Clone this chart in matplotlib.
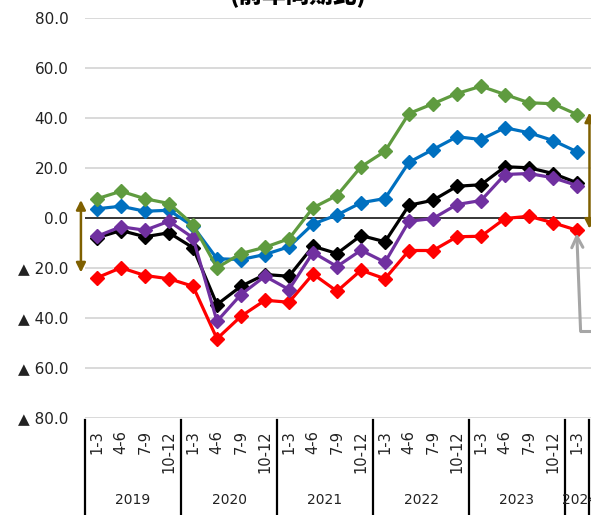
import numpy as np
import matplotlib
matplotlib.use('Agg')
import matplotlib.pyplot as plt
from matplotlib.lines import Line2D

years = ['2019', '2020', '2021', '2022', '2023', '2024']
quarters = ['1-3', '4-6', '7-9', '10-12']
year_counts = [4, 4, 4, 4, 4, 1]

green = [7.5, 10.5, 7.5, 5.6, -2.8, -20.1, -14.4, -11.9, -8.5, 3.9, 8.8,
         20.3, 26.5, 41.6, 45.5, 49.6, 52.5, 49.2, 45.9, 45.5, 41.2]
blue = [3.5, 4.5, 2.5, 2.9, -3.5, -16.5, -16.8, -14.8, -11.7, -2.6, 1.0,
        5.9, 7.6, 22.1, 27.2, 32.3, 31.2, 35.9, 33.9, 30.8, 26.3]
black = [-8.1, -5.2, -7.7, -6.1, -12.1, -34.8, -27.5, -22.8, -23.5, -11.5, -14.4,
         -7.2, -9.7, 4.9, 6.9, 12.5, 13.1, 20.3, 19.9, 17.6, 13.9]
purple = [-7.5, -3.7, -5.1, -1.5, -8.1, -41.5, -30.8, -23.5, -28.8, -14.0, -19.6,
          -13.1, -17.9, -1.5, -0.4, 5.2, 6.8, 17.2, 17.6, 15.9, 12.8]
red = [-24.1, -20.1, -23.2, -24.5, -27.5, -48.5, -39.5, -33.1, -33.9, -22.6, -29.5,
       -21.1, -24.5, -13.2, -13.2, -7.7, -7.5, -0.4, 0.5, -2.1, -5.1]

yticks = [80, 60, 40, 20, 0, -20, -40, -60, -80]

W, H = 591, 515
fig = plt.figure(figsize=(W / 100, H / 100), dpi=100)
# plot area: x 85..591 px, y 17.5..417.5 px
ax = fig.add_axes([85 / W, (H - 417.5) / H, (W - 85) / W, 400 / H])

x = np.arange(len(green))
series = [(red, '#FF0000'), (blue, '#0070C0'), (black, '#000000'),
          (purple, '#7030A0'), (green, '#5F9B3F')]
for vals, col in series:
    ax.plot(x, vals, color=col, lw=2.3, marker='D', ms=7.5, mec=col, mfc=col,
            zorder=3, clip_on=False)

ax.set_xlim(-0.5, -0.5 + (W - 85) / 24)
ax.set_ylim(-80, 80)
for s in ax.spines.values():
    s.set_visible(False)
for v in yticks:
    if v != 0:
        ax.axhline(v, color='#D9D9D9', lw=1.4, zorder=1)
ax.axhline(0, color='black', lw=1.1, zorder=2)

ax.set_yticks(yticks)
ax.set_yticklabels([f'{v:.1f}' if v >= 0 else f'▲ {-v:.1f}' for v in yticks],
                   fontsize=11, color='#222222')
ax.tick_params(axis='y', length=0, pad=12)
ax.set_xticks([])

# multi-level category axis
tr = ax.get_xaxis_transform()
i = 0
ax.add_line(Line2D([-0.5, -0.5], [-0.006, -0.25], transform=tr, color='black',
                   lw=1.6, clip_on=False))
for yr, n in zip(years, year_counts):
    for q in range(n):
        ax.text(i + q, -0.031, quarters[q], transform=tr, rotation=90,
                ha='center', va='top', fontsize=10.5, color='#222222')
    mid = i + (n - 1) / 2 if n > 1 else i + 0.1
    ax.text(mid, -0.206, yr, transform=tr, ha='center', va='center',
            fontsize=10, color='#222222')
    i += n
    ax.add_line(Line2D([i - 0.5, i - 0.5], [-0.006, -0.25], transform=tr,
                       color='black', lw=1.6, clip_on=False))

# arrows
brown = '#7F6000'
ax.annotate('', xy=(-0.67, -22), xytext=(-0.67, 7),
            arrowprops=dict(arrowstyle='<|-|>', color=brown, lw=1.8,
                            mutation_scale=14, shrinkA=0, shrinkB=0),
            annotation_clip=False)
ax.annotate('', xy=(20.52, -4.5), xytext=(20.52, 42),
            arrowprops=dict(arrowstyle='<|-|>', color=brown, lw=1.8,
                            mutation_scale=14, shrinkA=0, shrinkB=0),
            annotation_clip=False)
gray = '#A6A6A6'
ax.annotate('', xy=(19.99, -6.2), xytext=(20.15, -45.5),
            arrowprops=dict(arrowstyle='->', color=gray, lw=2.2,
                            mutation_scale=20, shrinkA=0, shrinkB=0),
            annotation_clip=False)
ax.plot([20.15, 21.5], [-45.5, -45.5], color=gray, lw=2.2, clip_on=False)
ax.text(20.55, -8.8, '-', color='#7030A0', fontsize=11, ha='left', va='center')

# title sits mostly above the top edge, only its lower part shows
fig.text(298 / W, 1 - 8 / H, '(前年同期比)', ha='center', va='bottom',
         fontsize=17, fontweight='heavy',
         family=['Noto Sans CJK JP', 'DejaVu Sans'])

fig.savefig('out.png', dpi=100)
